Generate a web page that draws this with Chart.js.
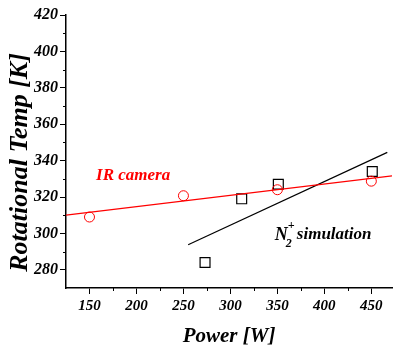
<!DOCTYPE html>
<html>
<head>
<meta charset="utf-8">
<script src="https://cdn.jsdelivr.net/npm/chart.js@4"></script>
<style>
  html, body { margin: 0; padding: 0; background: #fff; }
  #wrap { width: 393px; height: 349px; }
</style>
</head>
<body>
<div id="wrap"><canvas id="chart" width="393" height="349"></canvas></div>
<script>
// measured points
const irPower = [150, 250, 350, 450]
const irTemp = [309, 320.7, 324, 328.7]
const simPower = [273, 312, 351, 451]
const simTemp = [284, 319, 327, 334]

// linear fits, endpoints
const irFitPower = [125, 472]
const irFitTemp = [310, 331.6]
const simFitPower = [255, 467]
const simFitTemp = [293.8, 344.5]

const xTicks = [150, 200, 250, 300, 350, 400, 450]
const yTicks = [280, 300, 320, 340, 360, 380, 400, 420]

const serif = "'Liberation Serif', 'Times New Roman', serif"

function pts(xs, ys) {
    return xs.map((x, i) => ({x: x, y: ys[i]}))
}

// small unlabeled ticks between the labeled ones
const minorTicks = {
    id: 'minorTicks',
    afterDraw(chart) {
        const ctx = chart.ctx
        const x = chart.scales.x
        const y = chart.scales.y
        ctx.save()
        ctx.strokeStyle = '#000'
        ctx.lineWidth = 1
        ctx.beginPath()
        for (let v = 175; v < x.max; v += 50) {
            let px = Math.round(x.getPixelForValue(v)) + 0.5
            ctx.moveTo(px, y.bottom)
            ctx.lineTo(px, y.bottom + 3)
        }
        for (let v = 290; v < y.max; v += 20) {
            let py = Math.round(y.getPixelForValue(v)) + 0.5
            ctx.moveTo(x.left, py)
            ctx.lineTo(x.left - 3, py)
        }
        ctx.stroke()

        // y axis title, sits a bit below the plot's middle like the original
        ctx.translate(20, (y.top + y.bottom) / 2 + 11)
        ctx.rotate(-Math.PI / 2)
        ctx.textAlign = 'center'
        ctx.textBaseline = 'middle'
        ctx.fillStyle = '#000'
        ctx.font = `italic bold 26px ${serif}`
        ctx.fillText('Rotational Temp [K]', 0, 0)
        ctx.restore()
    }
}

// series labels placed in data space
const seriesLabels = {
    id: 'seriesLabels',
    afterDatasetsDraw(chart) {
        const ctx = chart.ctx
        const x = chart.scales.x
        const y = chart.scales.y
        ctx.save()
        ctx.textBaseline = 'middle'
        ctx.font = `italic bold 17px ${serif}`
        ctx.fillStyle = '#ff0000'
        ctx.fillText('IR camera', x.getPixelForValue(157), y.getPixelForValue(331.5))

        ctx.fillStyle = '#000'
        let lx = x.getPixelForValue(347.3)
        let ly = y.getPixelForValue(299.1)
        ctx.font = `italic bold 18px ${serif}`
        ctx.fillText('N', lx, ly)
        let w = ctx.measureText('N').width
        ctx.font = `italic bold 12px ${serif}`
        ctx.fillText('2', lx + w - 2, ly + 9)
        ctx.fillText('+', lx + w, ly - 9)
        ctx.font = `italic bold 17px ${serif}`
        ctx.fillText('simulation', lx + w + 9, ly)
        ctx.restore()
    }
}

const ctx = document.getElementById('chart').getContext('2d')
new Chart(ctx, {
    type: 'scatter',
    data: {
        datasets: [{
            label: 'IR camera fit',
            data: pts(irFitPower, irFitTemp),
            showLine: true,
            borderColor: '#ff0000',
            borderWidth: 1.2,
            pointRadius: 0
        }, {
            label: 'N2+ simulation fit',
            data: pts(simFitPower, simFitTemp),
            showLine: true,
            borderColor: '#000',
            borderWidth: 1.2,
            pointRadius: 0
        }, {
            label: 'IR camera',
            data: pts(irPower, irTemp),
            pointStyle: 'circle',
            pointRadius: 5,
            pointBorderWidth: 1,
            borderColor: '#ff0000',
            backgroundColor: 'rgba(0,0,0,0)'
        }, {
            label: 'N2+ simulation',
            data: pts(simPower, simTemp),
            pointStyle: 'rect',
            pointRadius: 7,
            pointBorderWidth: 1.2,
            borderColor: '#000',
            backgroundColor: 'rgba(0,0,0,0)'
        }]
    },
    options: {
        responsive: false,
        animation: false,
        layout: {autoPadding: false, padding: {top: 15, right: 1, left: 0, bottom: 0}},
        plugins: {
            legend: {display: false},
            tooltip: {enabled: false}
        },
        scales: {
            x: {
                type: 'linear',
                min: 125,
                max: 472,
                afterBuildTicks: s => { s.ticks = xTicks.map(v => ({value: v})) },
                afterFit: s => {
                    s.height = 61
                    s.paddingLeft = 0
                    s.paddingRight = 0
                },
                border: {display: true, color: '#000', width: 1.5},
                grid: {drawOnChartArea: false, color: '#000', tickLength: 6},
                ticks: {
                    color: '#000',
                    padding: 3,
                    maxRotation: 0,
                    font: {family: serif, size: 15, style: 'italic', weight: 'bold'}
                },
                title: {
                    display: true,
                    text: 'Power [W]',
                    color: '#000',
                    padding: {top: 4, bottom: 0},
                    font: {family: serif, size: 21, style: 'italic', weight: 'bold'}
                }
            },
            y: {
                type: 'linear',
                min: 270,
                max: 420,
                afterBuildTicks: s => { s.ticks = yTicks.map(v => ({value: v})) },
                afterFit: s => {
                    s.width = 66
                    s.paddingTop = 0
                    s.paddingBottom = 0
                },
                border: {display: true, color: '#000', width: 1.5},
                grid: {drawOnChartArea: false, color: '#000', tickLength: 6},
                ticks: {
                    color: '#000',
                    padding: 2,
                    font: {family: serif, size: 16, style: 'italic', weight: 'bold'}
                }
            }
        }
    },
    plugins: [minorTicks, seriesLabels]
})
</script>
</body>
</html>
